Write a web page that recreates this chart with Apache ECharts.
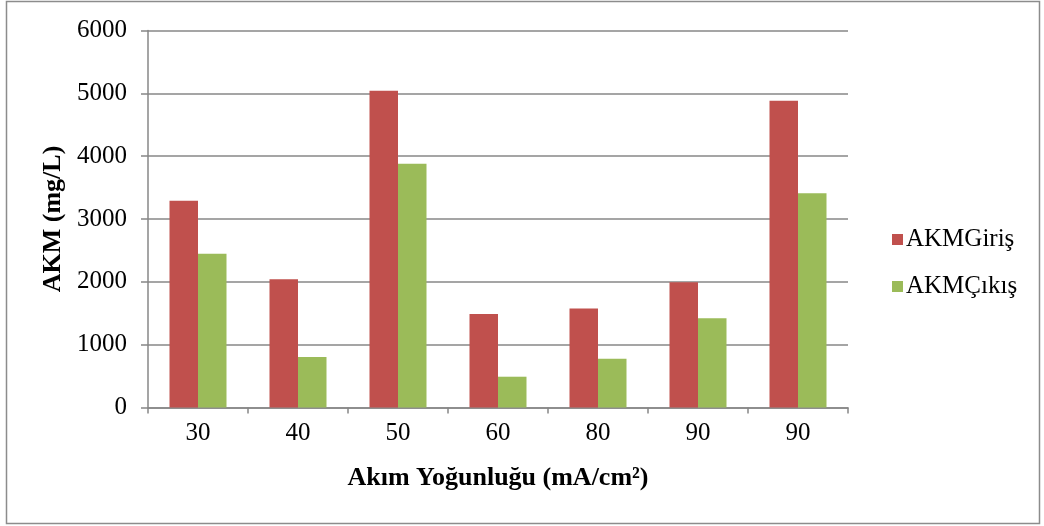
<!DOCTYPE html>
<html>
<head>
<meta charset="utf-8">
<script src="https://cdn.jsdelivr.net/npm/echarts@6/dist/echarts.min.js"></script>
<style>
	html, body { margin: 0; padding: 0; background: #fff; }
	#chart { width: 1044px; height: 526px; }
</style>
</head>
<body>
<div id="chart"></div>
<script>
// Akim yogunlugu (mA/cm2) - note the last two categories are both "90"
let categories = ['30', '40', '50', '60', '80', '90', '90'];
let akmGiris = [3290, 2040, 5040, 1490, 1575, 1995, 4880];
let akmCikis = [2445, 805, 3880, 490, 775, 1420, 3410];
let yTicks = [0, 1000, 2000, 3000, 4000, 5000, 6000];

let fontFamily = '"Liberation Serif", "Times New Roman", serif';
let gridColor = '#878787';

let chart = echarts.init(document.getElementById('chart'));

chart.setOption({
	animation: false,
	backgroundColor: '#fff',
	textStyle: { fontFamily: fontFamily },
	graphic: [{
		type: 'rect',
		shape: { x: 6.5, y: 1.5, width: 1033, height: 522 },
		style: { fill: 'none', stroke: '#8c8c8c', lineWidth: 1.5 },
		silent: true
	}],
	grid: { left: 148, right: 196, top: 30.5, bottom: 118.5 },
	legend: {
		orient: 'vertical',
		left: 887,
		top: 222,
		itemWidth: 11,
		itemHeight: 11,
		itemGap: 22,
		icon: 'rect',
		textStyle: { fontFamily: fontFamily, fontSize: 25, color: '#000', padding: [0, 0, 0, -2] },
		data: ['AKMGiriş', 'AKMÇıkış']
	},
	xAxis: {
		type: 'category',
		data: categories,
		name: 'Akım Yoğunluğu (mA/cm²)',
		nameLocation: 'middle',
		nameGap: 58,
		nameTextStyle: { fontFamily: fontFamily, fontSize: 26, fontWeight: 'bold', color: '#000' },
		axisLine: { lineStyle: { color: gridColor, width: 1.5 } },
		axisTick: { show: true, length: 6, lineStyle: { color: gridColor, width: 1.5 } },
		axisLabel: { fontSize: 25, color: '#000', margin: 13, fontFamily: fontFamily }
	},
	yAxis: {
		type: 'value',
		min: yTicks[0],
		max: yTicks[yTicks.length - 1],
		interval: 1000,
		name: 'AKM (mg/L)',
		nameLocation: 'middle',
		nameGap: 81,
		nameRotate: 90,
		nameTextStyle: { fontFamily: fontFamily, fontSize: 26, fontWeight: 'bold', color: '#000' },
		axisLine: { show: true, lineStyle: { color: gridColor, width: 1.5 } },
		axisTick: { show: true, length: 7, lineStyle: { color: gridColor, width: 1.5 } },
		axisLabel: {
			fontSize: 25, color: '#000', margin: 21, fontFamily: fontFamily,
			formatter: function (v) { return String(v); }
		},
		splitLine: { lineStyle: { color: gridColor, width: 1.5 } }
	},
	series: [
		{
			name: 'AKMGiriş',
			type: 'bar',
			data: akmGiris,
			barGap: '0%',
			barCategoryGap: '43%',
			itemStyle: { color: '#C0504D' }
		},
		{
			name: 'AKMÇıkış',
			type: 'bar',
			data: akmCikis,
			barGap: '0%',
			barCategoryGap: '43%',
			itemStyle: { color: '#9BBB59' }
		}
	]
});
</script>
</body>
</html>
